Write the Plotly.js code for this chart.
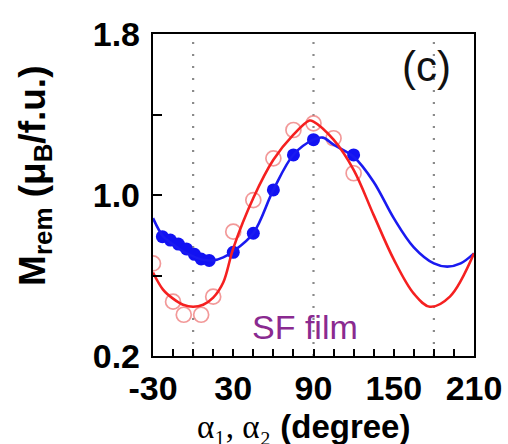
<!DOCTYPE html>
<html>
<head>
<meta charset="utf-8">
<script src="https://cdn.plot.ly/plotly-3.0.1.min.js"></script>
<style>html,body{margin:0;padding:0;background:#fff;}#chart{width:508px;height:444px;}</style>
</head>
<body>
<div id="chart"></div>
<script>
// Measured data: open circles (red) and filled dots (blue)
var redX = [-30, -15, -7, 6, 15, 30, 45, 60, 75, 90, 105, 120];
var redY = [0.66, 0.47, 0.405, 0.405, 0.495, 0.818, 0.975, 1.182, 1.323, 1.356, 1.282, 1.108];
var blueX = [-23, -17, -11, -5, 1, 6, 12, 30, 45, 60, 75, 90, 120];
var blueY = [0.793, 0.776, 0.756, 0.732, 0.705, 0.682, 0.675, 0.715, 0.81, 1.025, 1.199, 1.275, 1.199];
// Fitted curves
var redFitX = [-30, -22.5, -15, -7.5, 0, 7.5, 15, 22.5, 30, 45, 60, 75, 87, 90, 105, 120, 135, 150, 165, 177, 192, 210];
var redFitY = [0.615, 0.53, 0.485, 0.455, 0.445, 0.455, 0.49, 0.565, 0.735, 0.985, 1.175, 1.30, 1.37, 1.365, 1.275, 1.125, 0.90, 0.68, 0.51, 0.445, 0.495, 0.71];
var blueFitX = [-30, -22.5, -15, -7.5, 0, 7.5, 15, 22.5, 30, 45, 60, 75, 90, 97, 105, 120, 135, 150, 165, 180, 190, 200, 210];
var blueFitY = [0.885, 0.795, 0.755, 0.72, 0.695, 0.678, 0.675, 0.69, 0.72, 0.81, 1.025, 1.20, 1.275, 1.285, 1.25, 1.19, 1.065, 0.885, 0.74, 0.66, 0.644, 0.66, 0.71];
var xTickVals = [-30, -15, 0, 15, 30, 45, 60, 75, 90, 105, 120, 135, 150, 165, 180, 195, 210];
var xTickText = ['-30', '', '', '', '30', '', '', '', '90', '', '', '', '150', '', '', '', '210'];
var yTickVals = [0.2, 0.6, 1.0, 1.4, 1.8];
var yTickText = ['0.2', '', '1.0', '', '1.8'];
var guideX = [0, 90, 180];

var tickFont = {family: 'Liberation Sans, Arial, sans-serif', size: 34, color: '#000', weight: 'bold'};

var traces = [
  {x: redX, y: redY, type: 'scatter', mode: 'markers',
   marker: {symbol: 'circle-open', size: 15, color: 'rgba(236,110,110,0.7)', line: {width: 1.7, color: 'rgba(236,110,110,0.7)'}},
   hoverinfo: 'skip'},
  {x: blueX, y: blueY, type: 'scatter', mode: 'markers',
   marker: {symbol: 'circle', size: 13, color: '#1212f2'}, hoverinfo: 'skip'},
  {x: blueFitX, y: blueFitY, type: 'scatter', mode: 'lines',
   line: {color: '#1a1af0', width: 2.6, shape: 'spline', smoothing: 1}, hoverinfo: 'skip'},
  {x: redFitX, y: redFitY, type: 'scatter', mode: 'lines',
   line: {color: '#f52020', width: 2.6, shape: 'spline', smoothing: 1}, hoverinfo: 'skip'}
];

var shapes = guideX.map(function (gx) {
  return {type: 'line', xref: 'x', yref: 'paper', x0: gx, x1: gx, y0: 0, y1: 1,
          line: {color: '#8a8a8a', width: 2.2, dash: '2px,10px'}, layer: 'below'};
});

var layout = {
  width: 508, height: 444,
  margin: {l: 153, r: 34, t: 34, b: 88},
  paper_bgcolor: '#fff', plot_bgcolor: '#fff',
  showlegend: false,
  xaxis: {range: [-30, 210], tickvals: xTickVals, ticktext: xTickText,
          ticks: 'inside', ticklen: 7, tickwidth: 2, tickcolor: '#000',
          showline: true, linewidth: 2.2, linecolor: '#000', mirror: true,
          showgrid: false, zeroline: false, tickfont: tickFont, ticklabelstandoff: 1},
  yaxis: {range: [0.2, 1.8], tickvals: yTickVals, ticktext: yTickText,
          ticks: 'inside', ticklen: 9, tickwidth: 2, tickcolor: '#000',
          showline: true, linewidth: 2.2, linecolor: '#000', mirror: true,
          showgrid: false, zeroline: false, tickfont: tickFont, ticklabelstandoff: 4},
  shapes: shapes,
  annotations: [
    {text: '(c)', xref: 'paper', yref: 'paper', x: 0.852, y: 0.9, xanchor: 'center', yanchor: 'middle',
     showarrow: false, font: {family: 'Liberation Sans, Arial, sans-serif', size: 42, color: '#111'}},
    {text: 'SF film', xref: 'paper', yref: 'paper', x: 0.4735, y: 0.09, xanchor: 'center', yanchor: 'middle',
     showarrow: false, font: {family: 'Liberation Sans, Arial, sans-serif', size: 34, color: '#8a2a90'}},
    {text: 'M<sub>rem</sub> (μ<sub>B</sub>/f.u.)', xref: 'paper', yref: 'paper', x: -0.37, y: 0.56,
     xanchor: 'center', yanchor: 'middle', textangle: -90, showarrow: false,
     font: {family: 'Liberation Sans, Arial, sans-serif', size: 37, color: '#000', weight: 'bold'}},
    {text: '<span style="font-family:Liberation Serif;font-weight:normal">α₁, α₂</span> (degree)',
     xref: 'paper', yref: 'paper', x: 0.47, y: -0.218, xanchor: 'center', yanchor: 'middle', showarrow: false,
     font: {family: 'Liberation Sans, Arial, sans-serif', size: 33, color: '#000', weight: 'bold'}}
  ]
};

Plotly.newPlot('chart', traces, layout, {staticPlot: true, displayModeBar: false});
</script>
</body>
</html>
